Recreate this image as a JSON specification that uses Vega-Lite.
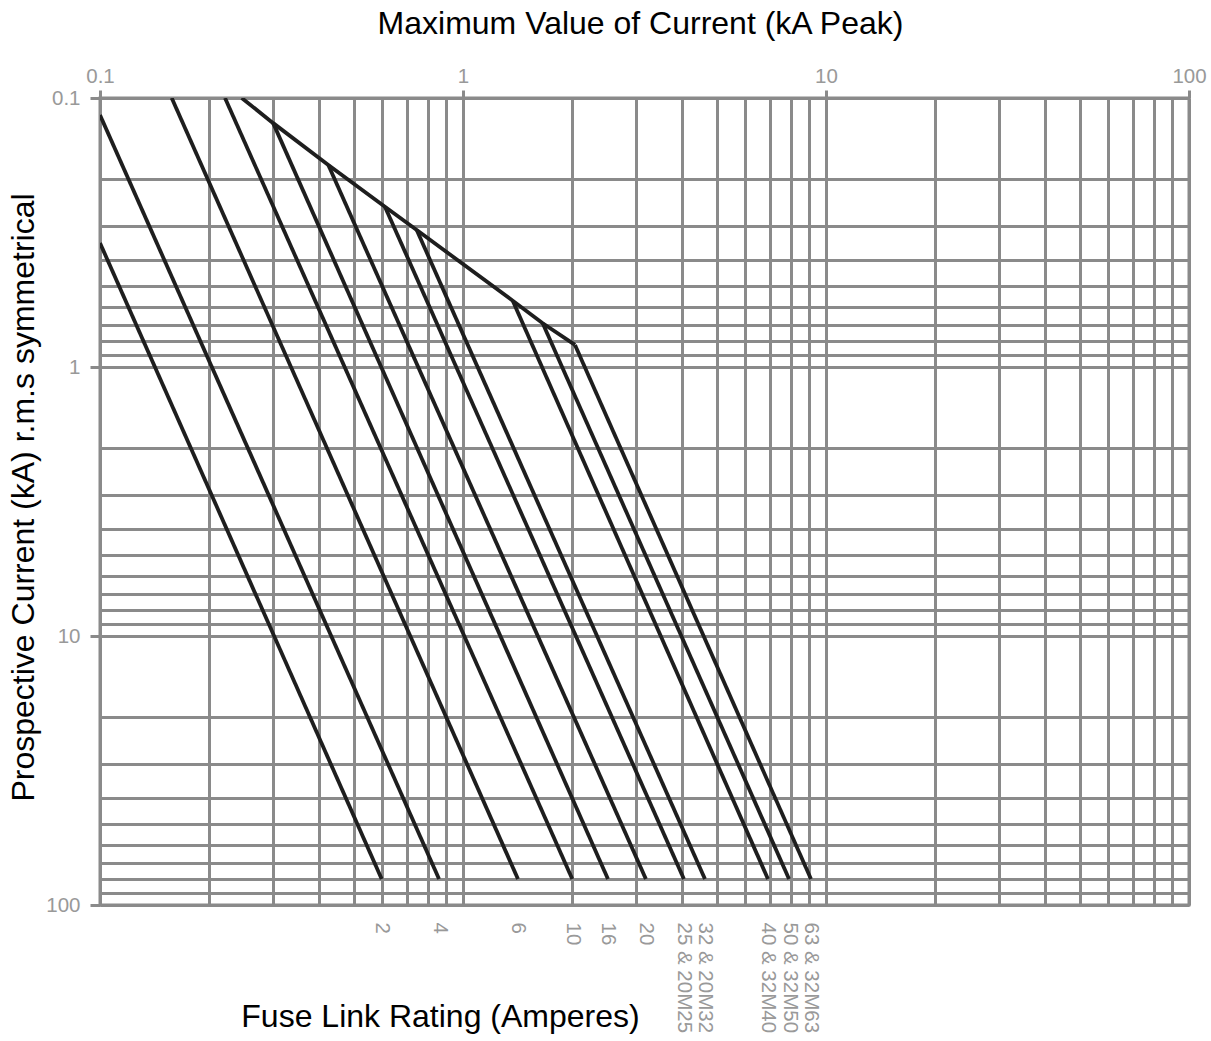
{
  "$schema": "https://vega.github.io/schema/vega-lite/v6.json",
  "width": 1089,
  "height": 807,
  "autosize": {"type": "none"},
  "padding": {"left": 100, "top": 98, "right": 22, "bottom": 136},
  "background": "white",
  "config": {
    "font": "Liberation Sans",
    "view": {"stroke": "#8a8a8a", "strokeWidth": 3},
    "axis": {"titleFontWeight": "normal", "titleColor": "#000000", "titleFontSize": 32, "labelColor": "#999999", "labelFontSize": 20.5, "labelFont": "Liberation Sans", "titleFont": "Liberation Sans"}
  },
  "datasets": {
    "curves": [
      {"series": "2", "x": 0.1, "y": 0.346},
      {"series": "2", "x": 0.597, "y": 80},
      {"series": "4", "x": 0.1, "y": 0.1157},
      {"series": "4", "x": 0.859, "y": 80},
      {"series": "6", "x": 0.1576, "y": 0.1},
      {"series": "6", "x": 1.417, "y": 80},
      {"series": "10", "x": 0.221, "y": 0.1},
      {"series": "10", "x": 2.0, "y": 80},
      {"series": "16", "x": 0.3, "y": 0.124},
      {"series": "16", "x": 2.508, "y": 80},
      {"series": "20", "x": 0.4256, "y": 0.1775},
      {"series": "20", "x": 3.19, "y": 80},
      {"series": "25", "x": 0.6095, "y": 0.2535},
      {"series": "25", "x": 4.06, "y": 80},
      {"series": "32", "x": 0.7457, "y": 0.3096},
      {"series": "32", "x": 4.64, "y": 80},
      {"series": "40", "x": 1.371, "y": 0.567},
      {"series": "40", "x": 6.92, "y": 80},
      {"series": "50", "x": 1.658, "y": 0.688},
      {"series": "50", "x": 7.91, "y": 80},
      {"series": "63", "x": 2.035, "y": 0.828},
      {"series": "63", "x": 9.09, "y": 80},
      {"series": "envelope", "x": 0.2457, "y": 0.1},
      {"series": "envelope", "x": 0.3, "y": 0.124},
      {"series": "envelope", "x": 0.4256, "y": 0.1775},
      {"series": "envelope", "x": 0.6095, "y": 0.2535},
      {"series": "envelope", "x": 0.7457, "y": 0.3096},
      {"series": "envelope", "x": 1.371, "y": 0.567},
      {"series": "envelope", "x": 1.658, "y": 0.688},
      {"series": "envelope", "x": 2.035, "y": 0.828}
    ]
  },
  "resolve": {"axis": {"x": "independent", "y": "independent"}},
  "layer": [
    {
      "data": {"name": "curves"},
      "transform": [{"filter": "datum.series == 'envelope'"}],
      "mark": {"type": "line", "color": "#1e1e1e", "strokeWidth": 3.8, "clip": true},
      "encoding": {
        "x": {
          "field": "x", "type": "quantitative",
          "scale": {"type": "log", "domain": [0.1, 100], "nice": false},
          "axis": {
            "orient": "top",
            "values": [0.1, 0.2, 0.3, 0.4, 0.5, 0.6, 0.7, 0.8, 0.9, 1, 2, 3, 4, 5, 6, 7, 8, 9, 10, 20, 30, 40, 50, 60, 70, 80, 90, 100],
            "grid": true, "gridColor": "#8a8a8a", "gridWidth": 3, "gridOpacity": 1,
            "domain": false,
            "ticks": true, "tickSize": 8, "tickWidth": 3, "tickColor": "#8a8a8a",
            "tickOpacity": {"condition": {"test": "datum.value == 0.1 || datum.value == 1 || datum.value == 10 || datum.value == 100", "value": 1}, "value": 0},
            "format": "~g",
            "labelExpr": "(datum.value == 0.1 || datum.value == 1 || datum.value == 10 || datum.value == 100) ? datum.label : ''",
            "labelOverlap": false, "labelFlush": false, "labelBound": false,
            "labelPadding": 4,
            "title": "Maximum Value of Current (kA Peak)",
            "titleX": 540, "titleY": -75, "titleAlign": "center", "titleBaseline": "middle", "titleAngle": 0
          }
        },
        "y": {
          "field": "y", "type": "quantitative",
          "scale": {"type": "log", "domain": [0.1, 100], "nice": false, "reverse": true},
          "axis": {
            "orient": "left",
            "values": [0.1, 0.2, 0.3, 0.4, 0.5, 0.6, 0.7, 0.8, 0.9, 1, 2, 3, 4, 5, 6, 7, 8, 9, 10, 20, 30, 40, 50, 60, 70, 80, 90, 100],
            "grid": true, "gridColor": "#8a8a8a", "gridWidth": 3, "gridOpacity": 1,
            "domain": false,
            "ticks": true, "tickSize": 10, "tickWidth": 3, "tickColor": "#8a8a8a",
            "tickOpacity": {"condition": {"test": "datum.value == 0.1 || datum.value == 1 || datum.value == 10 || datum.value == 100", "value": 1}, "value": 0},
            "format": "~g",
            "labelExpr": "(datum.value == 0.1 || datum.value == 1 || datum.value == 10 || datum.value == 100) ? datum.label : ''",
            "labelOverlap": false, "labelFlush": false, "labelBound": false,
            "labelPadding": 10,
            "title": "Prospective Current (kA) r.m.s symmetrical",
            "titleX": -77, "titleY": 399, "titleAlign": "center", "titleBaseline": "middle", "titleAngle": -90
          }
        }
      }
    },
    {
      "data": {"name": "curves"},
      "transform": [{"filter": "datum.series != 'envelope'"}],
      "mark": {"type": "line", "color": "#1e1e1e", "strokeWidth": 3.8, "clip": true},
      "encoding": {
        "detail": {"field": "series", "type": "nominal"},
        "x": {
          "field": "x", "type": "quantitative",
          "scale": {"type": "log", "domain": [0.1, 100], "nice": false},
          "axis": {
            "orient": "bottom",
            "values": [0.597, 0.859, 1.417, 2.0, 2.508, 3.19, 4.06, 4.64, 6.92, 7.91, 9.09],
            "grid": false, "domain": false, "ticks": false,
            "labelAngle": 90, "labelAlign": "left", "labelBaseline": "middle",
            "labelPadding": 17,
            "labelOverlap": false, "labelFlush": false, "labelBound": false,
            "labelExpr": "datum.value == 0.597 ? '2' : datum.value == 0.859 ? '4' : datum.value == 1.417 ? '6' : datum.value == 2 ? '10' : datum.value == 2.508 ? '16' : datum.value == 3.19 ? '20' : datum.value == 4.06 ? '25 & 20M25' : datum.value == 4.64 ? '32 & 20M32' : datum.value == 6.92 ? '40 & 32M40' : datum.value == 7.91 ? '50 & 32M50' : '63 & 32M63'",
            "title": "Fuse Link Rating (Amperes)",
            "titleX": 340, "titleY": 111, "titleAlign": "center", "titleBaseline": "middle", "titleAngle": 0
          }
        },
        "y": {
          "field": "y", "type": "quantitative",
          "scale": {"type": "log", "domain": [0.1, 100], "nice": false, "reverse": true},
          "axis": null
        }
      }
    }
  ]
}
